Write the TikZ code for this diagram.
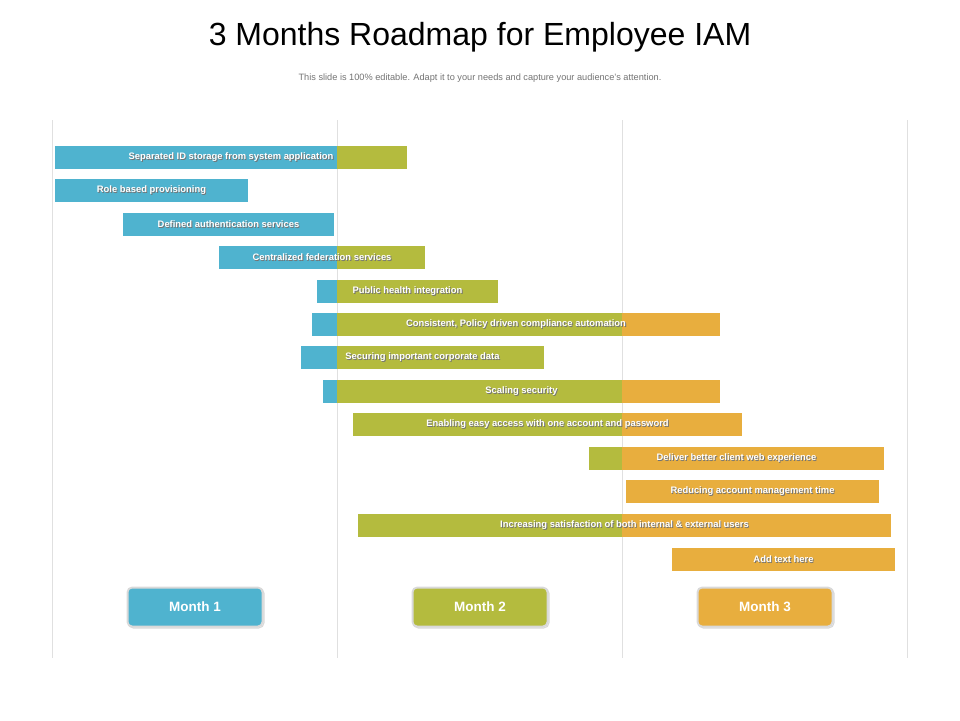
\documentclass[tikz,border=0pt]{standalone}
\usepackage{fontspec}
\setmainfont{Liberation Sans}
\definecolor{mblue}{HTML}{4FB3CF}
\definecolor{mgreen}{HTML}{B4BB3E}
\definecolor{morange}{HTML}{E8AE3E}
\tikzset{
  bartext/.style={text=white, font=\fontsize{9.4}{11}\selectfont\bfseries, inner sep=0pt},
  barshadow/.style={text=black!55, font=\fontsize{9.4}{11}\selectfont\bfseries, inner sep=0pt},
  monthbox/.style={rounded corners=4pt, draw=white, line width=1.5pt, minimum width=133pt, minimum height=37pt,
    text=white, font=\fontsize{13.5}{15}\selectfont\bfseries,
    preaction={draw=black!15, line width=4pt}},
  grid/.style={draw=black!12, line width=0.5pt}
}
\begin{document}
\begin{tikzpicture}[x=1pt, y=-1pt]
  \useasboundingbox (0,0) rectangle (960,720);
  % title
  \node[font=\fontsize{32}{36}\selectfont] (title) at (480,37) {3 Months Roadmap for Employee IAM};
  \node[font=\fontsize{9.2}{11}\selectfont, text=black!55] (sub) at (480,78) {This slide is 100\% editable. Adapt it to your needs and capture your audience's attention.};
  % grid lines
  \foreach \gx in {52,337,622,907}
    \draw[grid] (\gx,120) -- (\gx,658);
  % bars
  \foreach \s/\e/\r/\t [count=\i] in {
      55/407/157/{Separated ID storage from system application},
      55/248/190/{Role based provisioning},
      123/334/224/{Defined authentication services},
      219/425/257/{Centralized federation services},
      317/498/291/{Public health integration},
      312/720/324/{Consistent, Policy driven compliance automation},
      301/544/357/{Securing important corporate data},
      323/720/391/{Scaling security},
      353/742/424/{Enabling easy access with one account and password},
      589/884/458/{Deliver better client web experience},
      626/879/491/{Reducing account management time},
      358/891/525/{Increasing satisfaction of both internal \& external users},
      672/895/559/{Add text here}} {
    \pgfmathsetmacro\ba{min(\e,337)}
    \pgfmathsetmacro\ga{max(\s,337)}
    \pgfmathsetmacro\gb{min(\e,622)}
    \pgfmathsetmacro\oa{max(\s,622)}
    \ifdim\ba pt>\s pt \fill[mblue] (\s,\r-11.5) rectangle (\ba,\r+11.5);\fi
    \ifdim\gb pt>\ga pt \fill[mgreen] (\ga,\r-11.5) rectangle (\gb,\r+11.5);\fi
    \ifdim\e pt>\oa pt \fill[morange] (\oa,\r-11.5) rectangle (\e,\r+11.5);\fi
    \node[barshadow] at ({(\s+\e)/2+0.9},\r+0.9) {\t};
    \node[bartext] (bar\i) at ({(\s+\e)/2},\r) {\t};
  }
  % months
  \foreach \mx/\col/\n in {195/mblue/1, 480/mgreen/2, 765/morange/3} {
    \node[monthbox, fill=\col, text=black!45] at (\mx+1,608) {Month \n};
    \node[monthbox, fill=\col, preaction={}, draw=none, text=white] (month\n) at (\mx,607) {Month \n};
  }
\end{tikzpicture}
\end{document}
